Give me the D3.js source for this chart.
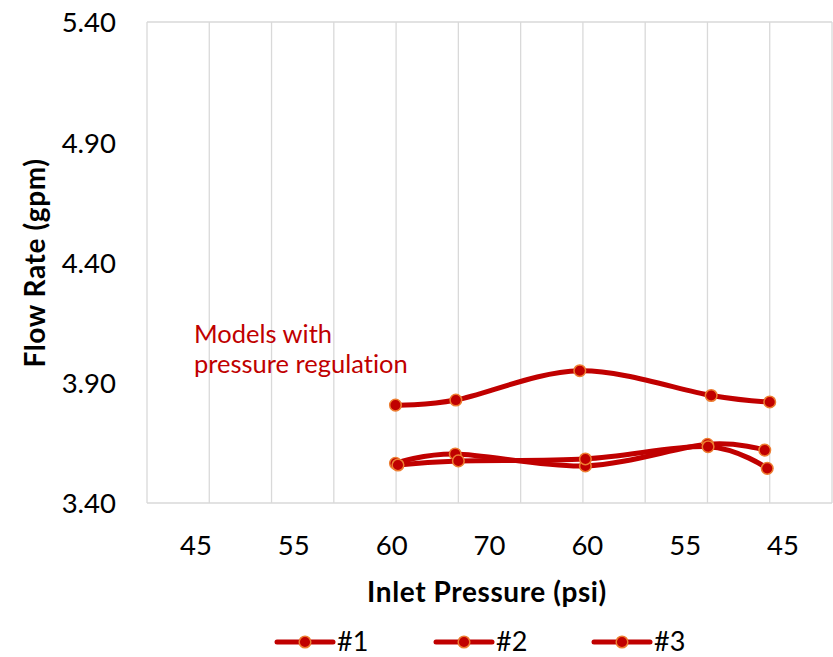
<!DOCTYPE html>
<html>
<head>
<meta charset="utf-8">
<script src="https://cdn.jsdelivr.net/npm/d3@7"></script>
<style>
  html, body { margin: 0; padding: 0; background: #fff; }
  svg { display: block; font-family: Lato, "Open Sans", sans-serif; font-variant-ligatures: none; }
</style>
</head>
<body>
<svg id="chart" width="833" height="657"></svg>
<script>
// Category labels along the bottom axis (inlet pressure steps, psi)
const categories = ["45", "55", "60", "70", "60", "55", "45"];

// Flow rate readings (gpm) for each model; x is the position along the test sequence
const seriesNames = ["#1", "#2", "#3"];
const xValues1 = [3.99, 4.96, 6.95, 9.06, 10.0];
const yValues1 = [3.807, 3.828, 3.950, 3.847, 3.820];
const xValues2 = [3.99, 4.95, 7.04, 9.0, 9.92];
const yValues2 = [3.565, 3.604, 3.554, 3.644, 3.620];
const xValues3 = [4.03, 5.0, 7.04, 9.01, 9.96];
const yValues3 = [3.558, 3.575, 3.583, 3.634, 3.544];

const yTicks = [3.40, 3.90, 4.40, 4.90, 5.40];
const xGridValues = d3.range(0, 12);

const svg = d3.select("#chart");
const plotLeft = 147, plotRight = 832, plotTop = 22, plotBottom = 503;

const x = d3.scaleLinear().domain([0, 11]).range([plotLeft, plotRight]);
const y = d3.scaleLinear().domain([3.4, 5.4]).range([plotBottom, plotTop]);
const xCat = d3.scaleBand().domain(d3.range(categories.length)).range([plotLeft, plotRight]);

const gridColor = "#d9d9d9";
const lineColor = "#c00000";
const markerEdge = "#ed7d31";
const tickFont = 27.5;

// vertical gridlines
svg.append("g")
  .selectAll("line")
  .data(xGridValues)
  .join("line")
  .attr("x1", d => x(d)).attr("x2", d => x(d))
  .attr("y1", y(5.4)).attr("y2", y(3.4))
  .attr("stroke", gridColor).attr("stroke-width", 1.3);

// plot frame top and bottom
svg.append("line")
  .attr("x1", x(0)).attr("x2", x(11)).attr("y1", y(5.4)).attr("y2", y(5.4))
  .attr("stroke", gridColor).attr("stroke-width", 1.3);
svg.append("line")
  .attr("x1", x(0)).attr("x2", x(11)).attr("y1", y(3.4)).attr("y2", y(3.4))
  .attr("stroke", gridColor).attr("stroke-width", 1.3);

// y axis labels
const yAxis = d3.axisLeft(y).tickValues(yTicks).tickFormat(d3.format(".2f")).tickSize(0).tickPadding(31);
const gy = svg.append("g").attr("transform", `translate(${plotLeft},0)`).call(yAxis);
gy.select(".domain").remove();
gy.selectAll("text").attr("font-size", tickFont).attr("fill", "#000")
  .attr("font-family", "Lato, sans-serif").attr("dy", "0.36em");

// x category labels
const xAxis = d3.axisBottom(xCat).tickFormat(i => categories[i]).tickSize(0).tickPadding(32);
const gx = svg.append("g").attr("transform", `translate(0,${plotBottom})`).call(xAxis);
gx.select(".domain").remove();
gx.selectAll("text").attr("font-size", tickFont).attr("fill", "#000").attr("font-family", "Lato, sans-serif");

// axis titles
svg.append("text")
  .attr("transform", `translate(45,263) rotate(-90)`)
  .attr("text-anchor", "middle")
  .attr("font-size", 28).attr("font-weight", "bold").attr("letter-spacing", 0.6)
  .text("Flow Rate (gpm)");
svg.append("text")
  .attr("x", 487).attr("y", 602)
  .attr("text-anchor", "middle")
  .attr("font-size", 28).attr("font-weight", "bold").attr("letter-spacing", 0.6)
  .text("Inlet Pressure (psi)");

// annotation
const note = svg.append("text").attr("fill", lineColor).attr("font-size", 25.5);
note.append("tspan").attr("x", 194).attr("y", 343).text("Models with");
note.append("tspan").attr("x", 194).attr("y", 373).text("pressure regulation");

// series
const series = [
  { name: seriesNames[0], xs: xValues1, ys: yValues1 },
  { name: seriesNames[1], xs: xValues2, ys: yValues2 },
  { name: seriesNames[2], xs: xValues3, ys: yValues3 }
].map(s => ({ name: s.name, pts: s.xs.map((v, i) => [v, s.ys[i]]) }));

const line = d3.line()
  .x(d => x(d[0])).y(d => y(d[1]))
  .curve(d3.curveCatmullRom.alpha(0));

const sg = svg.append("g").selectAll("g").data(series).join("g");
sg.append("path")
  .attr("d", d => line(d.pts))
  .attr("fill", "none").attr("stroke", lineColor)
  .attr("stroke-width", 5).attr("stroke-linecap", "round");
sg.selectAll("circle")
  .data(d => d.pts)
  .join("circle")
  .attr("cx", d => x(d[0])).attr("cy", d => y(d[1]))
  .attr("r", 5.8)
  .attr("fill", lineColor).attr("stroke", markerEdge).attr("stroke-width", 1.5);

// legend
const legendX = [277, 436, 594];
const lg = svg.append("g").selectAll("g").data(series).join("g")
  .attr("transform", (d, i) => `translate(${legendX[i]},642)`);
lg.append("line")
  .attr("x1", 0).attr("x2", 56).attr("y1", 0).attr("y2", 0)
  .attr("stroke", lineColor).attr("stroke-width", 5).attr("stroke-linecap", "round");
lg.append("circle")
  .attr("cx", 28).attr("cy", 0).attr("r", 5.8)
  .attr("fill", lineColor).attr("stroke", markerEdge).attr("stroke-width", 1.5);
lg.append("text")
  .attr("x", 60).attr("y", 9)
  .attr("font-size", 27)
  .text(d => d.name);
</script>
</body>
</html>
